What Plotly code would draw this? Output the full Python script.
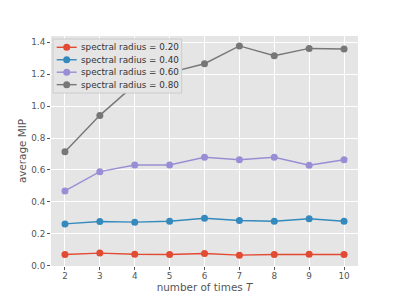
import plotly.graph_objects as go

T = [2, 3, 4, 5, 6, 7, 8, 9, 10]
labels = ["spectral radius = 0.20", "spectral radius = 0.40",
          "spectral radius = 0.60", "spectral radius = 0.80"]
mip_020 = [0.069, 0.078, 0.071, 0.069, 0.075, 0.065, 0.069, 0.071, 0.069]
mip_040 = [0.261, 0.276, 0.272, 0.278, 0.297, 0.282, 0.278, 0.293, 0.278]
mip_060 = [0.468, 0.589, 0.631, 0.631, 0.679, 0.664, 0.679, 0.629, 0.664]
mip_080 = [0.714, 0.942, 1.135, 1.210, 1.266, 1.378, 1.316, 1.362, 1.358]
colors = ["#E24A33", "#348ABD", "#988ED5", "#777777"]
yticks = [0.0, 0.2, 0.4, 0.6, 0.8, 1.0, 1.2, 1.4]

W, H = 399, 299
ML, MR, MT, MB = 51, 41, 36, 33
PW, PH = W - ML - MR, H - MT - MB


def px(x):
    return (x - ML) / PW


def py(y):
    return 1 - (y - MT) / PH


fig = go.Figure()
for name, vals, c in zip(labels, [mip_020, mip_040, mip_060, mip_080], colors):
    fig.add_trace(go.Scatter(
        x=T, y=vals, name=name, mode="lines+markers",
        line=dict(color=c, width=1.4),
        marker=dict(color=c, size=7),
        showlegend=False,
    ))

# legend drawn as a matplotlib-like box
shapes = [dict(type="rect", xref="paper", yref="paper",
               x0=px(53), x1=px(181.7), y0=py(93), y1=py(39),
               fillcolor="#E5E5E5", line=dict(color="#CCCCCC", width=1),
               layer="above")]
annotations = []
for i, (name, c) in enumerate(zip(labels, colors)):
    yy = py(47.3 + 12.45 * i)
    shapes.append(dict(type="line", xref="paper", yref="paper",
                       x0=px(56.7), x1=px(76.7), y0=yy, y1=yy,
                       line=dict(color=c, width=1.4), layer="above"))
    shapes.append(dict(type="circle", xref="paper", yref="paper",
                       xsizemode="pixel", ysizemode="pixel",
                       xanchor=px(66.7), yanchor=yy,
                       x0=-3.5, x1=3.5, y0=-3.5, y1=3.5,
                       fillcolor=c, line=dict(color=c, width=0), layer="above"))
    annotations.append(dict(text=name, xref="paper", yref="paper",
                            x=px(80), y=yy, xanchor="left", yanchor="middle",
                            showarrow=False, borderpad=0,
                            font=dict(family="DejaVu Sans", size=8.8, color="#333333")))

fig.update_layout(
    width=W, height=H,
    margin=dict(l=ML, r=MR, t=MT, b=MB),
    paper_bgcolor="white", plot_bgcolor="#E5E5E5",
    font=dict(family="DejaVu Sans", size=8.8, color="#555555"),
    showlegend=False,
    shapes=shapes,
    annotations=annotations,
    xaxis=dict(
        range=[1.6, 10.4], tickmode="array", tickvals=T,
        ticktext=[str(t) for t in T], automargin=False,
        showgrid=True, gridcolor="white", gridwidth=1, zeroline=False,
        ticks="outside", ticklen=3, tickcolor="#555555", ticklabelstandoff=-2,
        showline=False,
        title=dict(text="number of times <i>T</i>", font=dict(size=10.4, color="#555555"), standoff=1),
    ),
    yaxis=dict(
        range=[-0.003, 1.44], tickmode="array", tickvals=yticks,
        ticktext=[f"{v:.1f}" for v in yticks], automargin=False,
        showgrid=True, gridcolor="white", gridwidth=1, zeroline=False,
        ticks="outside", ticklen=3, tickcolor="#555555",
        showline=False,
        title=dict(text="average MIP", font=dict(size=10.4, color="#555555"), standoff=2),
    ),
)

fig.write_html("out.html", config={"displayModeBar": False},
               post_script="document.body.style.margin='0';")
